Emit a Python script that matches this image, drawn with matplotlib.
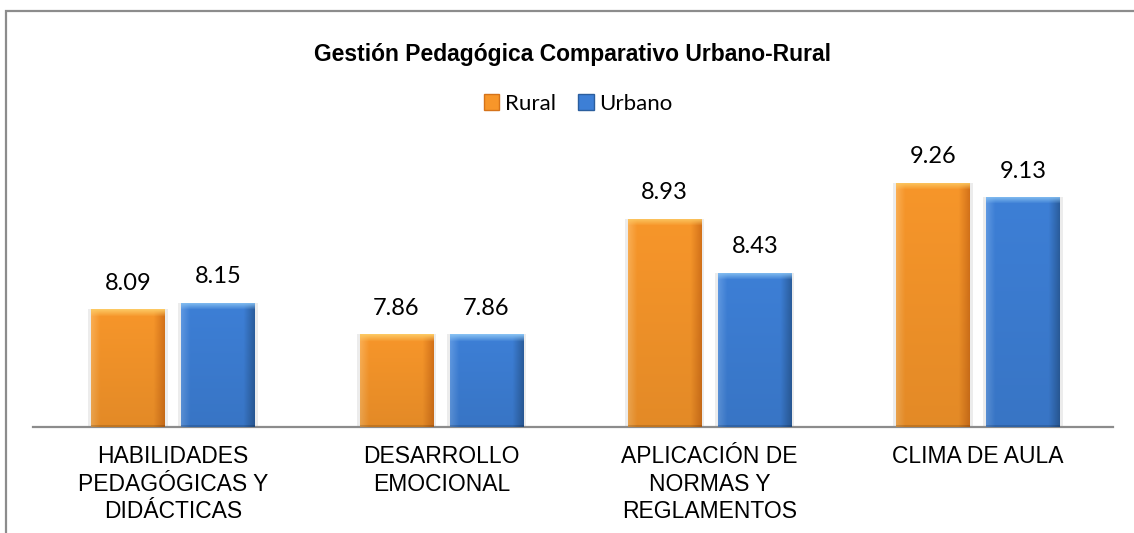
import matplotlib
matplotlib.use("Agg")
import matplotlib.pyplot as plt
import numpy as np
from matplotlib.patches import Rectangle, Patch

categories = ["HABILIDADES\nPEDAGÓGICAS Y\nDIDÁCTICAS", "DESARROLLO\nEMOCIONAL",
              "APLICACIÓN DE\nNORMAS Y\nREGLAMENTOS", "CLIMA DE AULA"]
rural = [8.09, 7.86, 8.93, 9.26]
urbano = [8.15, 7.86, 8.43, 9.13]
labels = ["Rural", "Urbano"]
title = "Gestión Pedagógica Comparativo Urbano-Rural"

# bar colours: base, left light, right dark, top bevel
orange = ["#F7962A", "#FBAE52", "#D5731A", "#FCC862"]
blue = ["#3D7FD6", "#5E98E2", "#2B5E9E", "#86C0F2"]


def hex2rgb(h):
    return np.array([int(h[i:i + 2], 16) for i in (1, 3, 5)]) / 255.0


def bar_image(cols, hpx, wpx):
    base, light, dark, top = [hex2rgb(c) for c in cols]
    h = max(int(hpx), 2)
    w = max(int(wpx), 2)
    x = np.linspace(0, 1, w)
    prof = np.zeros((w, 3))
    for i, t in enumerate(x):
        if t < 0.12:
            f = t / 0.12
            prof[i] = light * (1 - f) + base * f
        elif t > 0.85:
            f = (t - 0.85) / 0.15
            prof[i] = base * (1 - f) + dark * f
        else:
            prof[i] = base
    img = np.tile(prof, (h, 1, 1))
    # slight darkening to the bottom
    yy = np.linspace(0, 1, h)[:, None, None]
    img = img * (1 - 0.08 * yy)
    bev = 7
    for r in range(min(bev, h)):
        f = r / bev
        img[r] = top * (1 - f) + img[r] * f
    img[-2:] = img[-2:] * 0.85
    return np.clip(img, 0, 1)


W, H = 1134, 533
fig = plt.figure(figsize=(W / 100, H / 100), dpi=100)
ax_left, ax_right, ax_bottom = 33, 1113, 427
ymin, ymax = 7.0, 9.5
ppu = 108.0
ax_top = ax_bottom - (ymax - ymin) * ppu
ax = fig.add_axes([ax_left / W, (H - ax_bottom) / H, (ax_right - ax_left) / W, (ax_bottom - ax_top) / H])
xlo, xhi = -0.522, 3.503
ax.set_xlim(xlo, xhi)
ax.set_ylim(ymin, ymax)

# chart frame
fig.patches.append(Rectangle((6 / W, -0.2), 1.3, (H - 11) / H + 0.2, transform=fig.transFigure,
                             fill=False, edgecolor="#8c8c8c", linewidth=1.6))

width = 0.274
offs = [-0.168, 0.168]
x = np.arange(len(categories))
bar_px_w = width * (ax_right - ax_left) / (xhi - xlo)

for vals, off, cols in [(rural, offs[0], orange), (urbano, offs[1], blue)]:
    for xi, v in zip(x, vals):
        x0 = xi + off - width / 2
        # soft shadow
        ax.bar(xi + off, v - ymin, width * 1.08, bottom=ymin, color="#ececec", zorder=1)
        b = ax.bar(xi + off, v - ymin, width, bottom=ymin, color=cols[0], zorder=2)[0]
        img = bar_image(cols, (v - ymin) * ppu, bar_px_w)
        im = ax.imshow(img, extent=(x0, x0 + width, ymin, v), aspect="auto", zorder=3,
                       interpolation="bilinear")
        im.set_clip_path(b)
        ax.annotate(f"{v:.2f}", (xi + off, v), xytext=(0, 14), textcoords="offset points",
                    ha="center", va="baseline", fontsize=17, family="Lato", color="#000000")

ax.set_xlim(xlo, xhi)
ax.set_ylim(ymin, ymax)

for s in ["top", "right", "left"]:
    ax.spines[s].set_visible(False)
ax.spines["bottom"].set_color("#8c8c8c")
ax.spines["bottom"].set_linewidth(1.6)
ax.set_yticks([])
ax.set_xticks(x)
ax.set_xticklabels(categories, fontsize=16.5, family="Liberation Sans", linespacing=1.25)
ax.tick_params(axis="x", length=0, pad=13)

fig.text(572 / W, 1 - 54 / H, title, ha="center", va="center", fontsize=16.5,
         fontweight="bold", family="Liberation Sans")

handles = [Patch(facecolor=orange[0], edgecolor=orange[2]), Patch(facecolor=blue[0], edgecolor=blue[2])]
fig.legend(handles, labels, loc="center", bbox_to_anchor=(578 / W, 1 - 104 / H), ncol=2,
           frameon=False, prop={"family": "Lato", "size": 16}, handlelength=0.7, handleheight=0.7,
           handletextpad=0.25, columnspacing=1.0)

fig.savefig("out.png", dpi=100, facecolor="white")
